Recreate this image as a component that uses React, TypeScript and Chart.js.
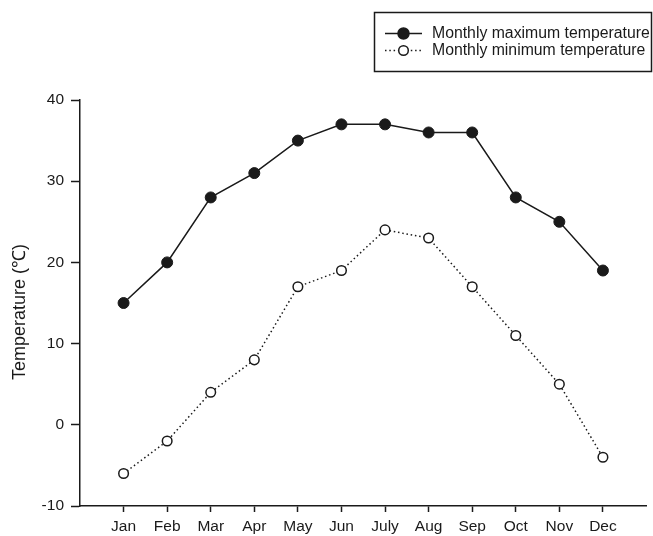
import React, { useEffect, useRef } from "react";
import { Chart, registerables } from "chart.js";

Chart.register(...registerables);

const months = ["Jan", "Feb", "Mar", "Apr", "May", "Jun", "July", "Aug", "Sep", "Oct", "Nov", "Dec"];
const maxTemp = [15, 20, 28, 31, 35, 37, 37, 36, 36, 28, 25, 19];
const minTemp = [-6, -2, 4, 8, 17, 19, 24, 23, 17, 11, 5, -4];
const yTicks = [-10, 0, 10, 20, 30, 40];
const seriesNames = ["Monthly maximum temperature", "Monthly minimum temperature"];
const yTitle = "Temperature (\u2103)";

const FONT = "'Liberation Sans', Arial, sans-serif";
const INK = "#1a1a1a";

const legendPlugin = {
  id: "boxLegend",
  afterDraw(chart: any) {
    const ctx = chart.ctx;
    ctx.save();
    ctx.strokeStyle = INK;
    ctx.lineWidth = 1.5;
    ctx.strokeRect(374.5, 12.5, 277, 59);
    const rows = [
      { y: 33.5, dash: [] as number[], fill: INK },
      { y: 50.5, dash: [1.5, 2.8], fill: "#ffffff" },
    ];
    rows.forEach((r, i) => {
      ctx.setLineDash(r.dash);
      ctx.lineWidth = 1.5;
      ctx.strokeStyle = INK;
      ctx.beginPath();
      ctx.moveTo(385, r.y);
      ctx.lineTo(422, r.y);
      ctx.stroke();
      ctx.setLineDash([]);
      ctx.beginPath();
      ctx.arc(403.5, r.y, i === 0 ? 5.5 : 4.8, 0, Math.PI * 2);
      ctx.fillStyle = r.fill;
      ctx.fill();
      ctx.lineWidth = 1.5;
      ctx.stroke();
      ctx.fillStyle = INK;
      ctx.font = `15.8px ${FONT}`;
      ctx.textBaseline = "middle";
      ctx.textAlign = "left";
      ctx.fillText(seriesNames[i], 432, r.y);
    });
    // y-axis title
    ctx.translate(20, 312);
    ctx.rotate(-Math.PI / 2);
    ctx.font = `18px ${FONT}`;
    ctx.textAlign = "center";
    ctx.textBaseline = "middle";
    ctx.fillStyle = INK;
    ctx.fillText(yTitle, 0, 0);
    ctx.restore();
  },
};

export default function App() {
  const ref = useRef<HTMLCanvasElement | null>(null);
  useEffect(() => {
    if (!ref.current) return;
    const chart = new Chart(ref.current, {
      type: "line",
      data: {
        datasets: [
          {
            label: seriesNames[0],
            data: maxTemp.map((v, i) => ({ x: i + 1, y: v })),
            borderColor: INK,
            borderWidth: 1.5,
            pointRadius: 5.5,
            pointBackgroundColor: INK,
            pointBorderColor: INK,
            pointBorderWidth: 1,
            tension: 0,
          },
          {
            label: seriesNames[1],
            data: minTemp.map((v, i) => ({ x: i + 1, y: v })),
            borderColor: INK,
            borderWidth: 1.5,
            borderDash: [1.5, 2.8],
            pointRadius: 4.8,
            pointBackgroundColor: "#ffffff",
            pointBorderColor: INK,
            pointBorderWidth: 1.5,
            tension: 0,
          },
        ],
      },
      options: {
        animation: false,
        responsive: false,
        maintainAspectRatio: false,
        layout: { padding: { top: 100, right: 6, left: 0, bottom: 0 } },
        plugins: { legend: { display: false }, tooltip: { enabled: false } },
        scales: {
          x: {
            type: "linear",
            min: 0,
            max: 13,
            afterBuildTicks: (axis: any) => {
              axis.ticks = months.map((_, i) => ({ value: i + 1 }));
            },
            afterFit: (scale: any) => {
              scale.height = 30;
            },
            grid: { drawOnChartArea: false, drawTicks: true, tickLength: 6, tickColor: INK, tickWidth: 1.5 },
            border: { display: true, color: INK, width: 1.5 },
            ticks: {
              color: INK,
              font: { family: FONT, size: 15.5 },
              padding: 5,
              maxRotation: 0,
              autoSkip: false,
              callback: (v: any) => months[Number(v) - 1] ?? "",
            },
          },
          y: {
            type: "linear",
            min: -10,
            max: 40,
            afterBuildTicks: (axis: any) => {
              axis.ticks = yTicks.map((v) => ({ value: v }));
            },
            afterFit: (scale: any) => {
              scale.width = 80;
            },
            grid: { drawOnChartArea: false, drawTicks: true, tickLength: 9, tickColor: INK, tickWidth: 1.5 },
            border: { display: true, color: INK, width: 1.5 },
            ticks: { color: INK, font: { family: FONT, size: 15.5 }, padding: 7 },
          },
        },
      },
      plugins: [legendPlugin],
    });
    return () => chart.destroy();
  }, []);
  return (
    <div style={{ position: "fixed", left: 0, top: 0, width: 653, height: 536, background: "#fff" }}>
      <canvas ref={ref} width={653} height={536} style={{ display: "block" }} />
    </div>
  );
}
